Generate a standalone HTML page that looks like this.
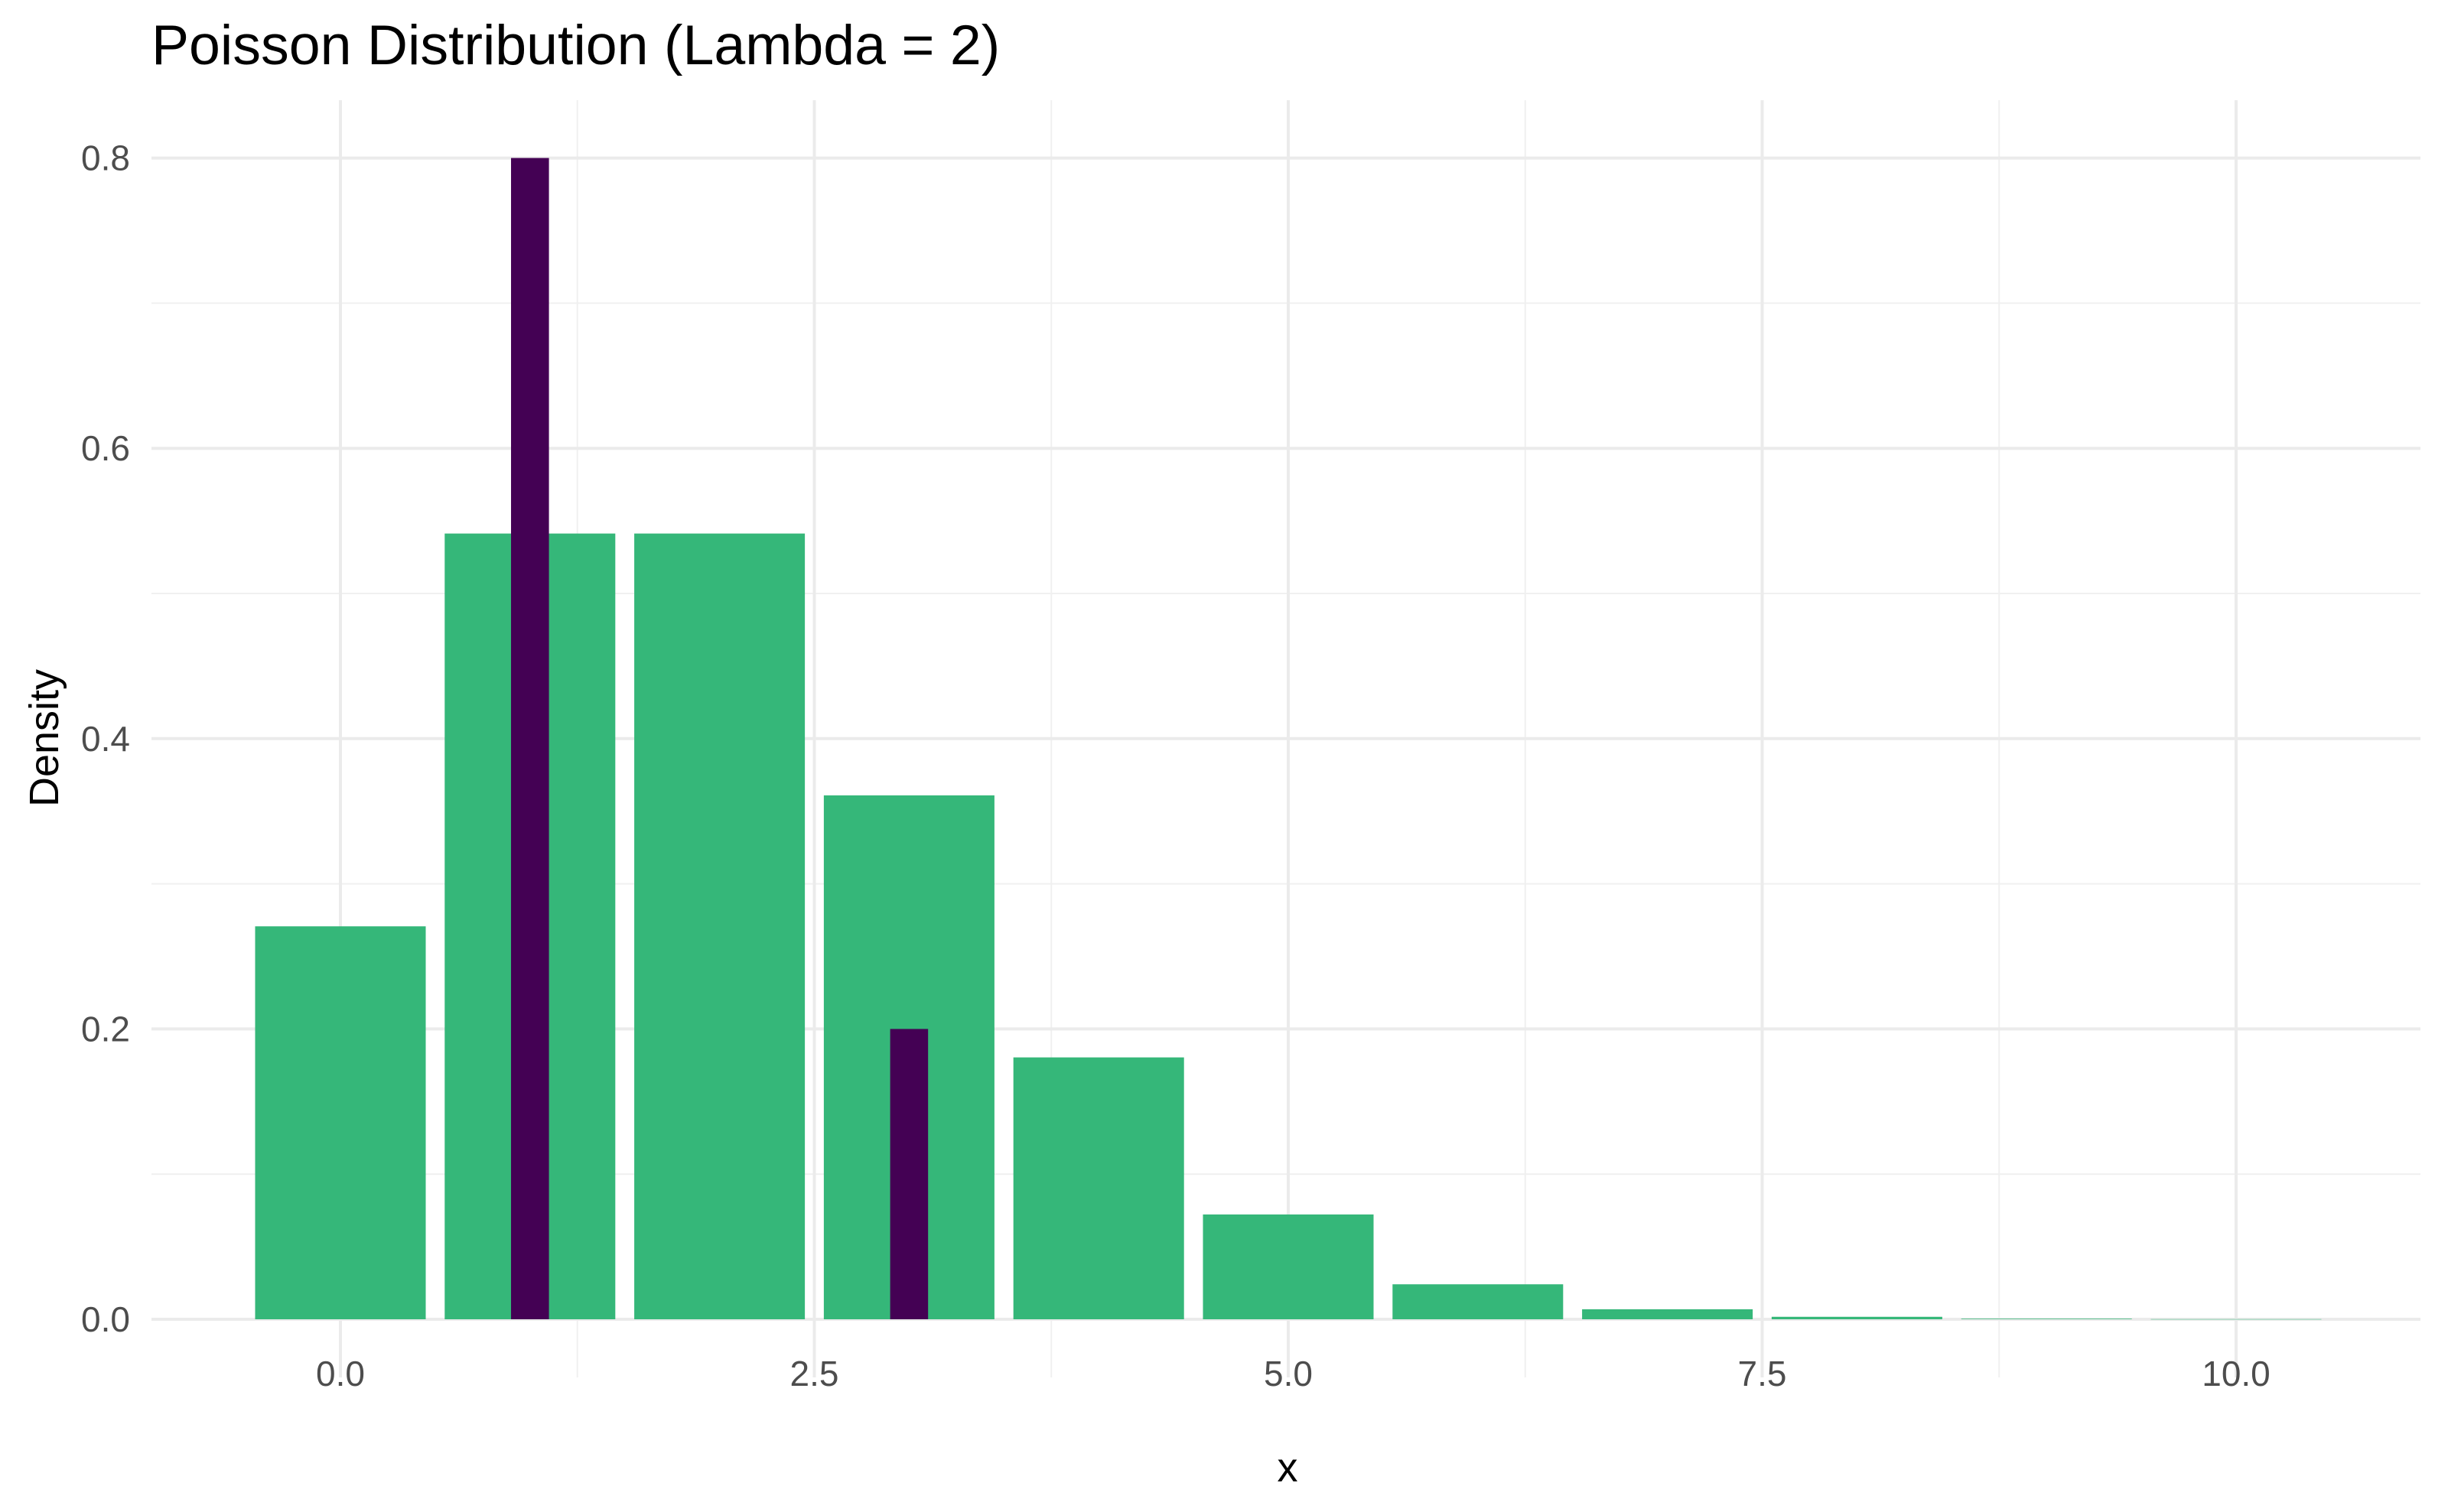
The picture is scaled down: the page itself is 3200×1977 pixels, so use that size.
<!DOCTYPE html>
<html><head><meta charset="utf-8"><style>
html,body{margin:0;padding:0;background:#fff;}
svg{display:block;font-family:"Liberation Sans",Arial,sans-serif;}
</style></head><body>
<svg id="chart" width="3200" height="1977" viewBox="0 0 3200 1977">
<text x="198" y="84" font-size="73.5" fill="#000">Poisson Distribution (Lambda = 2)</text>
<g id="grid"></g>
<g id="bars"></g>
<g id="ticks"></g>
<text x="1683" y="1937" font-size="54" text-anchor="middle" fill="#000">x</text>
<text x="0" y="0" font-size="54" text-anchor="middle" fill="#000" transform="translate(76,965) rotate(-90)">Density</text>
</svg>
<script>
const categories=[0,1,2,3,4,5,6,7,8,9,10];
const densityValues=[0.2707,0.5413,0.5413,0.3609,0.1804,0.0722,0.0241,0.0069,0.0017,0.0004,0.0001];
const sampleX=[1,3];
const sampleValues=[0.8,0.2];
const xTicks=[0,2.5,5,7.5,10];
const xTickLabels=["0.0","2.5","5.0","7.5","10.0"];
const xMinor=[1.25,3.75,6.25,8.75];
const yTicks=[0,0.2,0.4,0.6,0.8];
const yTickLabels=["0.0","0.2","0.4","0.6","0.8"];
const yMinor=[0.1,0.3,0.5,0.7];

const NS="http://www.w3.org/2000/svg";
const X0=445,XU=247.8,Y0=1725,YU=1898;
const PL=198,PR=3164,PT=131,PB=1801;
function sx(v){return X0+v*XU;}
function sy(v){return Y0-v*YU;}
function mk(tag,attrs,parent){const e=document.createElementNS(NS,tag);for(const k in attrs)e.setAttribute(k,attrs[k]);parent.appendChild(e);return e;}
const grid=document.getElementById('grid'),bars=document.getElementById('bars'),ticks=document.getElementById('ticks');
xMinor.forEach(v=>{const l=mk('line',{x1:sx(v),x2:sx(v),y1:PT,y2:PB,stroke:'#f0f0f0','stroke-width':2},grid);

});
yMinor.forEach(v=>{const l=mk('line',{x1:PL,x2:PR,y1:sy(v),y2:sy(v),stroke:'#f0f0f0','stroke-width':2},grid);

});
xTicks.forEach((v,i)=>{const l=mk('line',{x1:sx(v),x2:sx(v),y1:PT,y2:PB,stroke:'#ebebeb','stroke-width':4},grid);


const t=mk('text',{x:sx(v),y:1812,'font-size':46,'text-anchor':'middle',fill:'#4d4d4d'},ticks);t.textContent=xTickLabels[i];

});
yTicks.forEach((v,i)=>{const l=mk('line',{x1:PL,x2:PR,y1:sy(v),y2:sy(v),stroke:'#ebebeb','stroke-width':4},grid);


const t=mk('text',{x:170,y:sy(v)+16,'font-size':46,'text-anchor':'end',fill:'#4d4d4d'},ticks);t.textContent=yTickLabels[i];

});
categories.forEach((c,i)=>{const h=densityValues[i]*YU;const r=mk('rect',{x:sx(c-0.45),y:sy(densityValues[i]),width:0.9*XU,height:Math.max(h,0.5),fill:'#35b779'},bars);

});
sampleX.forEach((c,i)=>{const r=mk('rect',{x:sx(c-0.1),y:sy(sampleValues[i]),width:0.2*XU,height:sampleValues[i]*YU,fill:'#440154'},bars);

});
</script>
</body></html>
